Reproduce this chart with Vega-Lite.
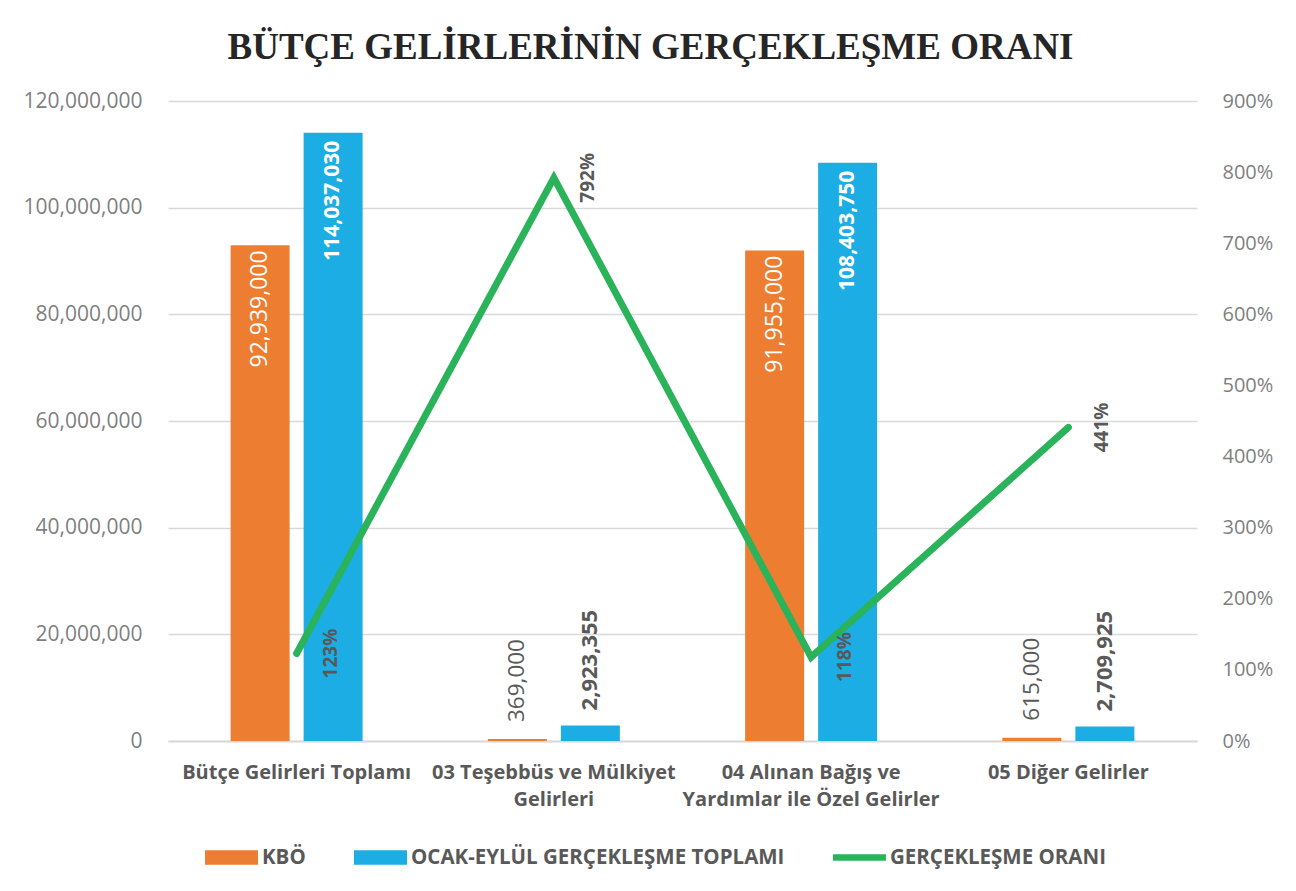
{
  "$schema": "https://vega.github.io/schema/vega-lite/v6.json",
  "width": 1029,
  "height": 640,
  "autosize": {"type": "none"},
  "padding": {"left": 168, "top": 101, "right": 99, "bottom": 150},
  "background": "white",
  "config": {"view": {"stroke": null}, "font": "Open Sans"},
  "title": {
    "text": "BÜTÇE GELİRLERİNİN GERÇEKLEŞME ORANI",
    "font": "Liberation Serif",
    "fontSize": 37,
    "fontWeight": "bold",
    "color": "#262626",
    "anchor": "middle",
    "frame": "group",
    "dx": -32,
    "offset": 23
  },
  "datasets": {
    "bars": [
      {"category": "Bütçe Gelirleri Toplamı", "series": "KBÖ", "value": 92939000},
      {"category": "Bütçe Gelirleri Toplamı", "series": "OCAK-EYLÜL GERÇEKLEŞME TOPLAMI", "value": 114037030},
      {"category": "03 Teşebbüs ve Mülkiyet Gelirleri", "series": "KBÖ", "value": 369000},
      {"category": "03 Teşebbüs ve Mülkiyet Gelirleri", "series": "OCAK-EYLÜL GERÇEKLEŞME TOPLAMI", "value": 2923355},
      {"category": "04 Alınan Bağış ve Yardımlar ile Özel Gelirler", "series": "KBÖ", "value": 91955000},
      {"category": "04 Alınan Bağış ve Yardımlar ile Özel Gelirler", "series": "OCAK-EYLÜL GERÇEKLEŞME TOPLAMI", "value": 108403750},
      {"category": "05 Diğer Gelirler", "series": "KBÖ", "value": 615000},
      {"category": "05 Diğer Gelirler", "series": "OCAK-EYLÜL GERÇEKLEŞME TOPLAMI", "value": 2709925}
    ],
    "ratio": [
      {"category": "Bütçe Gelirleri Toplamı", "ratio": 1.23},
      {"category": "03 Teşebbüs ve Mülkiyet Gelirleri", "ratio": 7.92},
      {"category": "04 Alınan Bağış ve Yardımlar ile Özel Gelirler", "ratio": 1.18},
      {"category": "05 Diğer Gelirler", "ratio": 4.41}
    ]
  },
  "layer": [
    {
      "data": {"name": "bars"},
      "encoding": {
        "x": {
          "field": "category",
          "type": "nominal",
          "sort": ["Bütçe Gelirleri Toplamı", "03 Teşebbüs ve Mülkiyet Gelirleri", "04 Alınan Bağış ve Yardımlar ile Özel Gelirler", "05 Diğer Gelirler"],
          "scale": {"paddingInner": 0.487, "paddingOuter": 0.2435},
          "axis": {
            "title": null,
            "labelAngle": 0,
            "labelExpr": "datum.label == '03 Teşebbüs ve Mülkiyet Gelirleri' ? ['03 Teşebbüs ve Mülkiyet', 'Gelirleri'] : datum.label == '04 Alınan Bağış ve Yardımlar ile Özel Gelirler' ? ['04 Alınan Bağış ve', 'Yardımlar ile Özel Gelirler'] : datum.label",
            "labelFont": "Open Sans",
            "labelFontWeight": "bold",
            "labelFontSize": 20,
            "labelColor": "#595959",
            "labelLineHeight": 27,
            "labelPadding": 21,
            "labelBaseline": "top",
            "labelLimit": 0,
            "labelOverlap": false,
            "ticks": false,
            "domainColor": "#d9d9d9",
            "domainWidth": 2,
            "grid": false
          }
        },
        "xOffset": {
          "field": "series",
          "type": "nominal",
          "sort": ["KBÖ", "OCAK-EYLÜL GERÇEKLEŞME TOPLAMI"],
          "scale": {"paddingInner": 0.192, "paddingOuter": 0}
        },
        "y": {
          "field": "value",
          "type": "quantitative",
          "scale": {"domain": [0, 120000000], "nice": false},
          "axis": {
            "orient": "left",
            "title": null,
            "values": [0, 20000000, 40000000, 60000000, 80000000, 100000000, 120000000],
            "format": ",.0f",
            "labelFont": "Open Sans",
            "labelFontSize": 21,
            "labelColor": "#7f7f7f",
            "labelPadding": 26,
            "ticks": false,
            "domain": false,
            "grid": true,
            "gridColor": "#d9d9d9",
            "gridWidth": 1.5
          }
        }
      },
      "layer": [
        {
          "mark": {"type": "bar"},
          "encoding": {
            "color": {
              "field": "series",
              "type": "nominal",
              "scale": {
                "domain": ["KBÖ", "OCAK-EYLÜL GERÇEKLEŞME TOPLAMI", "GERÇEKLEŞME ORANI"],
                "range": ["#ED7D31", "#1CADE4", "#2BB35B"]
              },
              "legend": {
                "title": null,
                "orient": "none",
                "direction": "horizontal",
                "legendX": 37,
                "legendY": 730,
                "columnPadding": 48,
                "symbolSize": 2809,
                "labelOffset": 4,
                "labelFont": "Open Sans",
                "labelFontWeight": "bold",
                "labelFontSize": 20.5,
                "labelColor": "#595959",
                "labelLimit": 600,
                "encode": {
                  "symbols": {
                    "update": {
                      "shape": {"signal": "datum.value == 'GERÇEKLEŞME ORANI' ? 'M-1,-0.12H1V0.12H-1Z' : 'M-1,-0.27H1V0.27H-1Z'"},
                      "fill": {"signal": "scale('color', datum.value)"},
                      "stroke": {"value": "transparent"},
                      "strokeWidth": {"value": 0},
                      "opacity": {"value": 1}
                    }
                  }
                }
              }
            }
          }
        },
        {
          "transform": [{"filter": "datum.series == 'KBÖ' && datum.value > 10000000"}],
          "mark": {"type": "text", "angle": 270, "align": "right", "baseline": "middle", "dx": -5, "color": "white", "fontSize": 23, "font": "Open Sans"},
          "encoding": {"text": {"field": "value", "type": "quantitative", "format": ",.0f"}}
        },
        {
          "transform": [{"filter": "datum.series != 'KBÖ' && datum.value > 10000000"}],
          "mark": {"type": "text", "angle": 270, "align": "right", "baseline": "middle", "dx": -8, "color": "white", "fontSize": 21, "fontWeight": "bold", "font": "Open Sans"},
          "encoding": {"text": {"field": "value", "type": "quantitative", "format": ",.0f"}}
        },
        {
          "transform": [{"filter": "datum.series == 'KBÖ' && datum.value <= 10000000"}],
          "mark": {"type": "text", "angle": 270, "align": "left", "baseline": "middle", "dx": 17, "color": "#595959", "fontSize": 22.5, "font": "Open Sans"},
          "encoding": {"text": {"field": "value", "type": "quantitative", "format": ",.0f"}}
        },
        {
          "transform": [{"filter": "datum.series != 'KBÖ' && datum.value <= 10000000"}],
          "mark": {"type": "text", "angle": 270, "align": "left", "baseline": "middle", "dx": 15, "color": "#595959", "fontSize": 22, "fontWeight": "bold", "font": "Open Sans"},
          "encoding": {"text": {"field": "value", "type": "quantitative", "format": ",.0f"}}
        }
      ]
    },
    {
      "data": {"name": "ratio"},
      "encoding": {
        "x": {
          "field": "category",
          "type": "nominal",
          "sort": ["Bütçe Gelirleri Toplamı", "03 Teşebbüs ve Mülkiyet Gelirleri", "04 Alınan Bağış ve Yardımlar ile Özel Gelirler", "05 Diğer Gelirler"]
        },
        "y": {
          "field": "ratio",
          "type": "quantitative",
          "scale": {"domain": [0, 9], "nice": false},
          "axis": {
            "orient": "right",
            "title": null,
            "values": [0, 1, 2, 3, 4, 5, 6, 7, 8, 9],
            "format": ".0%",
            "labelFont": "Open Sans",
            "labelFontSize": 20,
            "labelColor": "#7f7f7f",
            "labelPadding": 25,
            "ticks": false,
            "domain": false,
            "grid": false
          }
        }
      },
      "layer": [
        {
          "mark": {"type": "line", "strokeWidth": 7, "strokeCap": "round", "strokeJoin": "miter"},
          "encoding": {"color": {"datum": "GERÇEKLEŞME ORANI"}}
        },
        {
          "mark": {"type": "text", "angle": 270, "align": "center", "baseline": "middle", "dy": 34, "color": "#595959", "fontSize": 19, "fontWeight": "bold", "font": "Open Sans"},
          "encoding": {"text": {"field": "ratio", "type": "quantitative", "format": ".0%"}}
        }
      ]
    }
  ],
  "resolve": {"scale": {"y": "independent"}, "axis": {"y": "independent"}}
}
